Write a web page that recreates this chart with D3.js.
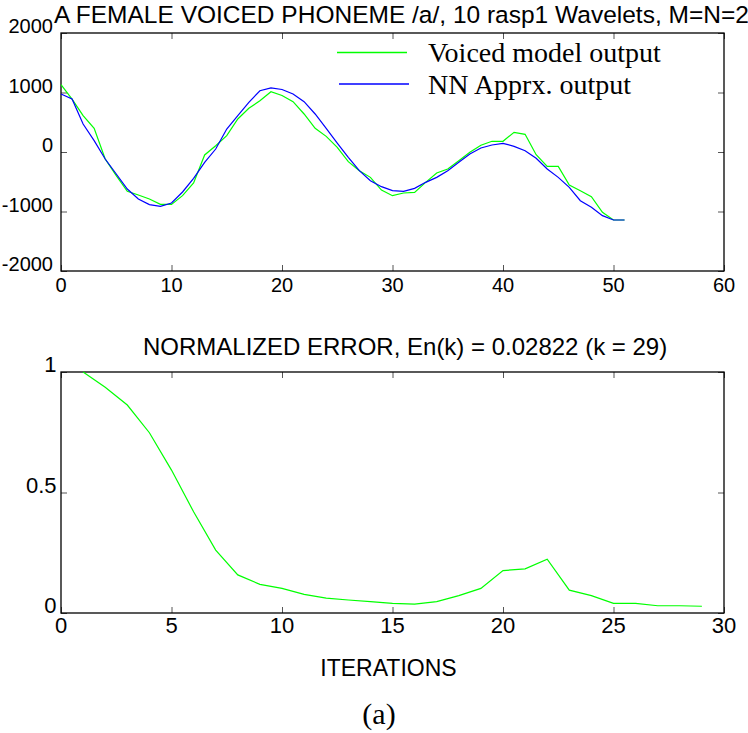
<!DOCTYPE html>
<html><head><meta charset="utf-8">
<script src="https://cdn.jsdelivr.net/npm/d3@7"></script>
<style>
html,body{margin:0;padding:0;background:#fff;}
svg{display:block;}
text{font-family:"Liberation Sans",Arial,Helvetica,sans-serif;fill:#000;}
.serif{font-family:"Liberation Serif","Times New Roman",serif;}
</style></head>
<body>
<script>
// ---------- DATA ----------
const sampleIndex = d3.range(0, 52);
const voicedModel = [1131, 890, 610, 398, -118, -398, -661, -723, -790, -880,
  -880, -734, -521, -50, 106, 274, 555, 734, 862, 1014,
  950, 846, 639, 398, 263, 78, -162, -314, -426, -639,
  -734, -689, -678, -510, -353, -286, -146, -6, 113, 180,
  180, 331, 297, -45, -241, -241, -555, -650, -751, -1014,
  -1143, -1143];
const nnApprox = [975, 890, 470, 190, -118, -370, -622, -790, -885, -913,
  -857, -672, -442, -174, 50, 386, 610, 835, 1030, 1076,
  1050, 975, 846, 639, 398, 151, -90, -314, -482, -583,
  -650, -661, -611, -510, -426, -314, -174, -34, 67, 118,
  146, 95, 22, -106, -286, -426, -594, -818, -930, -1070,
  -1143, -1143];
const iterations = d3.range(1, 30);
const normError = [1.0, 0.937, 0.863, 0.748, 0.593, 0.42, 0.261, 0.158, 0.119, 0.102,
  0.077, 0.062, 0.054, 0.047, 0.040, 0.037, 0.047, 0.072, 0.102, 0.176,
  0.183, 0.223, 0.095, 0.072, 0.040, 0.040, 0.030, 0.030, 0.028];
const topXTicks = [0, 10, 20, 30, 40, 50, 60];
const topYTicks = [-2000, -1000, 0, 1000, 2000];
const botXTicks = [0, 5, 10, 15, 20, 25, 30];
const botYTicks = [0, 0.5, 1];
const topTitle = "A FEMALE VOICED PHONEME /a/, 10 rasp1 Wavelets, M=N=2";
const botTitle = "NORMALIZED ERROR, En(k) = 0.02822 (k = 29)";
const legendLabels = ["Voiced model output", "NN Apprx. output"];
const xLabel = "ITERATIONS";
const caption = "(a)";

// ---------- DRAW ----------
const W = 748, H = 733;
const svg = d3.select("body").append("svg").attr("width", W).attr("height", H);
const GREEN = "#00ff00", BLUE = "#0000ff", TICK = "#555";

function panel(box, xDom, yDom, xTicks, yTicks, opt) {
  const x = d3.scaleLinear().domain(xDom).range([box.l, box.r]);
  const y = d3.scaleLinear().domain(yDom).range([box.b, box.t]);
  const fmt = d => String(d);
  const tl = 6;
  const axes = [
    [d3.axisBottom(x).tickValues(xTicks).tickSize(-tl).tickFormat(""), `translate(0,${box.b})`],
    [d3.axisTop(x).tickValues(xTicks).tickSize(-tl).tickFormat(""), `translate(0,${box.t})`],
    [d3.axisLeft(y).tickValues(yTicks).tickSize(-tl).tickFormat(""), `translate(${box.l},0)`],
    [d3.axisRight(y).tickValues(yTicks).tickSize(-tl).tickFormat(""), `translate(${box.r},0)`]
  ];
  axes.forEach(([ax, tr]) => {
    const g = svg.append("g").attr("transform", tr).call(ax);
    g.select(".domain").remove();
    g.selectAll("line").attr("stroke", TICK).attr("stroke-width", 1);
  });
  svg.append("rect").attr("x", box.l).attr("y", box.t)
    .attr("width", box.r - box.l).attr("height", box.b - box.t)
    .attr("fill", "none").attr("stroke", "#000").attr("stroke-width", 1.3);
  svg.append("g").selectAll("text").data(xTicks).join("text")
    .attr("x", d => x(d)).attr("y", opt.xLabY)
    .attr("text-anchor", "middle").style("font-size", opt.fs + "px").text(fmt);
  svg.append("g").selectAll("text").data(yTicks).join("text")
    .attr("x", box.l - opt.yLabGap).attr("y", d => y(d) + opt.yLabDy)
    .attr("text-anchor", "end").style("font-size", opt.fs + "px").text(fmt);
  return {x, y};
}

// top panel
const topP = panel({l: 61, r: 724, t: 33, b: 271}, [0, 60], [-2000, 2000], topXTicks, topYTicks,
  {fs: 20, xLabY: 292, yLabGap: 8, yLabDy: 0});
const lineTop = (vals) => d3.line().x((d, i) => topP.x(sampleIndex[i])).y(d => topP.y(d))(vals);
svg.append("path").attr("d", lineTop(voicedModel)).attr("fill", "none")
  .attr("stroke", GREEN).attr("stroke-width", 1.2);
svg.append("path").attr("d", lineTop(nnApprox)).attr("fill", "none")
  .attr("stroke", BLUE).attr("stroke-width", 1.2);

// legend
const leg = svg.append("g");
[[GREEN, 337, 407, 52.5, 62], [BLUE, 339, 409, 84, 94]].forEach((r, i) => {
  leg.append("line").attr("x1", r[1]).attr("x2", r[2]).attr("y1", r[3]).attr("y2", r[3])
    .attr("stroke", r[0]).attr("stroke-width", 1.3);
  leg.append("text").attr("class", "serif").attr("x", 428).attr("y", r[4])
    .style("font-size", "28px").text(legendLabels[i]);
});

svg.append("text").attr("x", 54).attr("y", 23).style("font-size", "24.5px").text(topTitle);

// bottom panel
const botP = panel({l: 61, r: 724, t: 372, b: 613}, [0, 30], [0, 1], botXTicks, botYTicks,
  {fs: 22, xLabY: 633, yLabGap: 4.5, yLabDy: 0});
svg.append("path")
  .attr("d", d3.line().x((d, i) => botP.x(iterations[i])).y(d => botP.y(d))(normError))
  .attr("fill", "none").attr("stroke", GREEN).attr("stroke-width", 1.2);

svg.append("text").attr("x", 143).attr("y", 355).style("font-size", "24px").text(botTitle);
svg.append("text").attr("x", 388.5).attr("y", 676).attr("text-anchor", "middle")
  .style("font-size", "23px").text(xLabel);
svg.append("text").attr("class", "serif").attr("x", 379).attr("y", 724)
  .attr("text-anchor", "middle").style("font-size", "30px").text(caption);
</script>
</body></html>
